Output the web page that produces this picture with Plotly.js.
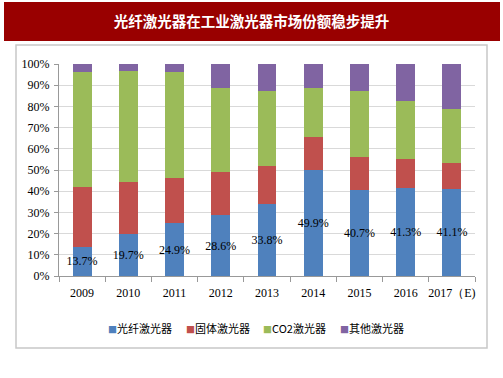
<!DOCTYPE html>
<html>
<head>
<meta charset="utf-8">
<script src="https://cdn.plot.ly/plotly-3.0.1.min.js"></script>
<style>html,body{margin:0;padding:0;background:#fff;}#chart{width:503px;height:378px;}</style>
</head>
<body>
<div id="chart"></div>
<script>
const titleText = '光纤激光器在工业激光器市场份额稳步提升';
const years = ['2009','2010','2011','2012','2013','2014','2015','2016','2017（E)'];
const seriesNames = ['光纤激光器','固体激光器','CO2激光器','其他激光器'];
const fiber  = [13.7, 19.7, 24.9, 28.6, 33.8, 49.9, 40.7, 41.3, 41.1];
const solid  = [28.1, 24.5, 21.2, 20.3, 18.1, 15.5, 15.4, 13.9, 12.4];
const co2    = [54.2, 52.5, 49.9, 39.9, 35.4, 23.4, 31.3, 27.5, 25.1];
const other  = [4.0, 3.3, 4.0, 11.2, 12.7, 11.2, 12.6, 17.3, 21.4];
const colors = ['#4F81BD','#C0504D','#9BBB59','#8064A2'];

const serif = 'Liberation Serif, Times New Roman, serif';
const cjk = 'Noto Sans CJK SC, sans-serif';

const values = [fiber, solid, co2, other];
const traces = values.map((v, i) => ({
  type: 'bar', x: years, y: v, name: seriesNames[i],
  marker: {color: colors[i]}, showlegend: false, hoverinfo: 'skip',
  text: i === 0 ? v.map(d => d.toFixed(1) + '%') : undefined,
  textposition: i === 0 ? 'inside' : 'none',
  insidetextanchor: 'middle', textangle: 0, constraintext: 'none',
  textfont: {family: serif, size: 12, color: '#000'}
}));

// legend drawn as compact annotations (swatch + name)
const legendX = [106, 184, 261, 338];
const legendAnn = seriesNames.map((n, i) => ({
  xref: 'paper', yref: 'paper', x: (legendX[i] - 59) / 416, y: (276 - 328) / 212,
  xanchor: 'left', yanchor: 'middle', showarrow: false,
  text: '<span style="color:' + colors[i] + ';font-size:9px">■</span>' + n,
  font: {family: cjk, size: 11, color: '#000'}
}));

const layout = {
  width: 503, height: 378,
  margin: {l: 59, r: 28, t: 64, b: 102},
  paper_bgcolor: '#fff', plot_bgcolor: '#fff',
  barmode: 'stack', bargap: 0.59,
  showlegend: false,
  title: {text: titleText, font: {family: cjk, size: 14.5, color: '#fff', weight: 'bold'},
          x: 0.5, xref: 'container', y: 1 - 22/378, yref: 'container', yanchor: 'middle', xanchor: 'center'},
  xaxis: {type: 'category', showline: true, linecolor: '#999', linewidth: 1,
          ticks: 'outside', tickson: 'boundaries', ticklen: 5, tickcolor: '#999', tickangle: 0,
          tickfont: {family: serif, size: 12, color: '#000'}, showgrid: false, ticklabelstandoff: 6},
  yaxis: {range: [0, 100], dtick: 10, ticksuffix: '%', showline: true, linecolor: '#999',
          ticks: 'outside', ticklen: 4, tickcolor: '#999',
          gridcolor: '#d9d9d9', zeroline: false,
          tickfont: {family: serif, size: 12, color: '#000'}, ticklabelstandoff: 2},
  annotations: legendAnn,
  shapes: [
    {type: 'rect', xref: 'paper', yref: 'paper', x0: (4-59)/416, x1: (500-59)/416,
     y0: (276-2)/212, y1: (276-41)/212, fillcolor: '#990000', line: {width: 0}, layer: 'below'},
    {type: 'rect', xref: 'paper', yref: 'paper', x0: (16-59)/416, x1: (487-59)/416,
     y0: (276-45)/212, y1: (276-348)/212, fillcolor: 'rgba(0,0,0,0)', line: {width: 1.5, color: '#c8c8c8'}, layer: 'below'}
  ]
};
Plotly.newPlot('chart', traces, layout, {staticPlot: true, displayModeBar: false});
</script>
</body>
</html>
